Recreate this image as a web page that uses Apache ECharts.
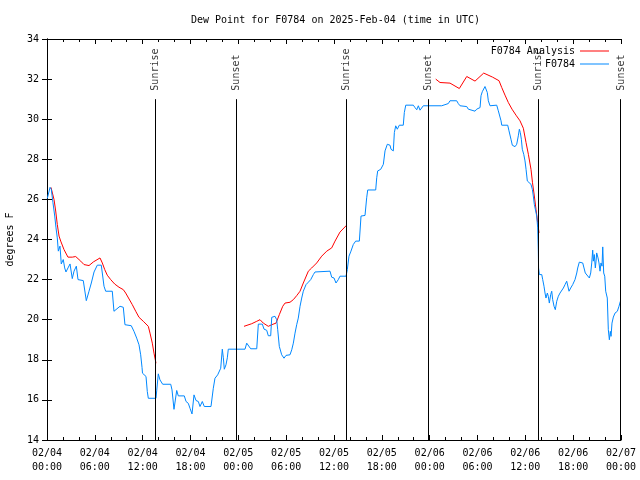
<!DOCTYPE html>
<html><head><meta charset="utf-8">
<script src="https://cdn.jsdelivr.net/npm/echarts@6/dist/echarts.min.js"></script>
<style>html,body{margin:0;padding:0;background:#fff}#c{width:640px;height:480px}</style>
</head><body><div id="c"></div>
<script>
// x values are hours since 02/04 00:00 UTC
const tickLabels = ["02/04\n00:00","02/04\n06:00","02/04\n12:00","02/04\n18:00","02/05\n00:00","02/05\n06:00","02/05\n12:00","02/05\n18:00","02/06\n00:00","02/06\n06:00","02/06\n12:00","02/06\n18:00","02/07\n00:00"];
const yTicks = [14,16,18,20,22,24,26,28,30,32,34];

const obsHours = [0.04,0.38,0.54,0.75,0.97,1.13,1.29,1.42,1.63,1.79,2.04,2.22,2.38,2.63,2.89,3.17,3.39,3.68,3.89,4.55,4.93,5.27,5.56,5.90,6.31,6.81,7.15,7.36,8.19,8.40,9.16,9.57,9.78,10.57,10.91,11.25,11.54,11.75,11.92,11.98,12.42,12.58,12.71,13.67,13.76,13.96,14.17,14.51,15.52,15.68,15.93,16.27,16.47,17.22,17.44,17.72,17.94,18.19,18.44,18.69,18.98,19.19,19.48,19.73,20.57,20.86,21.07,21.41,21.61,21.79,21.99,22.12,22.24,22.45,22.62,22.74,24.84,25.05,25.25,25.55,26.31,26.51,27.01,27.22,27.56,27.76,28.06,28.19,28.60,28.81,28.94,29.14,29.44,29.73,29.98,30.48,30.70,30.90,31.11,31.32,31.52,31.74,31.95,32.15,32.49,32.78,33.08,33.41,33.62,35.50,35.71,36.00,36.25,36.54,36.75,37.51,37.67,37.88,38.13,38.42,38.72,39.18,39.39,39.89,40.10,40.23,41.23,41.36,41.48,41.86,42.19,42.40,42.69,43.03,43.15,43.44,43.57,43.74,43.94,44.19,44.69,44.82,45.00,45.95,46.16,46.38,46.58,46.79,47.00,47.20,49.51,49.71,50.34,50.55,51.39,51.59,51.81,52.65,52.85,53.06,53.69,53.90,54.32,54.44,54.60,54.78,54.94,55.16,55.23,55.36,55.57,56.41,56.61,56.82,56.95,57.04,57.79,57.95,58.08,58.20,58.37,58.71,58.92,59.12,59.25,59.37,59.50,59.62,59.80,59.96,60.09,60.25,60.46,60.71,60.88,61.00,61.13,61.30,61.43,61.55,61.63,61.66,61.76,62.06,62.18,62.34,62.47,62.59,62.76,62.88,63.01,63.18,63.31,63.43,63.60,63.76,63.94,64.14,64.35,64.56,64.77,64.98,65.19,65.32,65.48,65.69,65.94,66.23,66.45,66.57,66.77,67.20,67.36,67.52,67.77,68.03,68.20,68.33,68.45,68.53,68.65,68.78,68.87,68.95,69.12,69.24,69.37,69.49,69.62,69.71,69.83,69.96,70.08,70.28,70.41,70.54,70.66,70.75,70.87,71.04,71.25,71.54,71.75,71.92];
const obsDew = [26.05,26.6,26.5,25.83,25.17,24.58,24.08,23.42,23.67,22.78,23.0,22.58,22.38,22.58,22.78,22.05,22.42,22.67,22.0,21.95,20.95,21.42,21.83,22.38,22.72,22.72,21.67,21.42,21.42,20.42,20.67,20.62,19.75,19.7,19.42,19.08,18.75,18.25,17.62,17.33,17.17,16.42,16.08,16.08,16.45,17.3,17.0,16.78,16.78,16.5,15.53,16.47,16.2,16.2,15.92,15.83,15.58,15.3,16.25,15.97,15.92,15.67,15.92,15.67,15.67,16.58,17.08,17.25,17.33,17.58,18.53,18.1,17.53,17.75,18.1,18.53,18.53,18.83,18.83,18.55,18.55,19.78,19.78,19.53,19.47,19.2,19.2,20.12,20.17,20.0,19.5,18.67,18.25,18.08,18.22,18.25,18.5,18.83,19.33,19.75,20.08,20.67,21.08,21.42,21.75,21.87,22.0,22.25,22.38,22.42,22.12,22.08,21.83,22.0,22.17,22.17,22.5,23.17,23.42,23.75,23.92,23.92,25.17,25.2,26.08,26.47,26.47,27.08,27.42,27.5,27.75,28.42,28.75,28.7,28.5,28.42,29.33,29.67,29.5,29.7,29.7,30.33,30.7,30.7,30.58,30.47,30.67,30.45,30.45,30.67,30.67,30.7,30.78,30.92,30.92,30.78,30.67,30.63,30.5,30.42,30.4,30.5,30.58,31.17,31.37,31.33,31.63,31.7,31.33,30.92,30.67,30.7,30.42,30.33,29.92,29.7,29.7,29.42,29.33,29.0,28.7,28.63,28.75,29.17,29.5,29.33,29.0,28.5,28.25,27.92,27.5,26.92,26.83,26.75,26.5,26.17,25.75,25.67,25.17,24.58,23.42,22.58,22.25,22.25,22.0,21.67,21.33,21.08,21.33,21.17,20.83,21.25,21.42,21.0,20.67,20.5,20.92,21.17,21.33,21.37,21.58,21.75,21.92,22.0,21.42,21.58,21.75,22.0,22.33,22.58,22.87,22.83,22.58,22.33,22.25,22.08,22.33,22.83,23.47,22.92,23.25,22.58,22.92,23.33,23.08,22.83,22.42,22.83,22.67,23.63,22.33,22.17,21.42,21.08,19.5,19.0,19.42,19.17,19.83,20.13,20.33,20.42,20.67,20.92];

const anaHours1 = [0.5,0.88,1.09,1.29,1.51,1.72,2.13,2.63,3.17,3.60,4.23,4.64,5.27,5.81,6.65,6.94,7.24,7.56,7.99,8.49,9.03,9.57,9.87,10.70,11.13,11.54,12.08,12.71,12.92,13.21,13.42,13.67];
const anaDew1 = [26.6,26.0,25.42,24.75,24.17,23.92,23.5,23.12,23.12,23.15,22.92,22.75,22.7,22.88,23.08,22.83,22.5,22.22,22.0,21.78,21.62,21.5,21.33,20.75,20.42,20.12,19.92,19.67,19.33,18.83,18.33,17.83];
const anaHours2 = [24.71,25.68,26.31,26.72,27.13,27.76,28.19,28.73,29.14,29.57,29.86,30.48,30.90,31.32,31.74,32.15,32.78,33.20,33.83,34.46,35.09,35.71,36.13,36.75,37.60];
const anaDew2 = [19.67,19.8,19.92,20.0,19.83,19.67,19.75,19.83,20.25,20.67,20.83,20.87,21.0,21.2,21.42,21.83,22.42,22.58,22.83,23.17,23.42,23.58,23.92,24.37,24.72];
const anaHours3 = [48.76,49.30,50.55,51.72,52.65,53.69,54.78,55.88,56.70,57.04,57.45,57.87,58.33,58.83,59.33,59.75,60.09,60.38,60.71,60.90,61.13,61.34,61.55,61.72];
const anaDew3 = [32.0,31.83,31.8,31.53,32.13,31.9,32.3,32.1,31.92,31.58,31.2,30.83,30.5,30.2,29.92,29.55,28.83,28.25,27.5,26.83,26.17,25.5,24.83,24.33];

const sunHours = [13.59,23.71,37.55,47.83,61.63,71.94];
const sunNames = ["Sunrise","Sunset","Sunrise","Sunset","Sunrise","Sunset"];
const sunLineTop = 31;

const FONT = 'DejaVu Sans Mono';
const pairs = (xs, ys) => xs.map((x, i) => [x, ys[i]]);

const chart = echarts.init(document.getElementById('c'), null, {renderer: 'canvas'});

const xBase = {
  type: 'value', min: 0, max: 72, interval: 6,
  axisLine: {show: true, lineStyle: {color: '#000', width: 1}},
  axisTick: {show: true, inside: true, length: 5, lineStyle: {color: '#000'}},
  minorTick: {show: true, splitNumber: 3, length: 3, lineStyle: {color: '#000'}},
  splitLine: {show: false}, minorSplitLine: {show: false}
};
const yBase = {
  type: 'value', min: yTicks[0], max: yTicks[yTicks.length - 1], interval: yTicks[1] - yTicks[0],
  axisLine: {show: true, lineStyle: {color: '#000', width: 1}},
  axisTick: {show: true, inside: true, length: 5, lineStyle: {color: '#000'}},
  splitLine: {show: false}
};

const anaStyle = {
  type: 'line', name: 'F0784 Analysis', symbol: 'none', showSymbol: false,
  color: '#ff0000', lineStyle: {color: '#ff0000', width: 1}, z: 2
};

chart.setOption({
  animation: false,
  backgroundColor: '#fff',
  textStyle: {fontFamily: FONT},
  title: {
    text: 'Dew Point for F0784 on 2025-Feb-04 (time in UTC)',
    left: 186, top: 10,
    textStyle: {fontFamily: FONT, fontSize: 10, fontWeight: 'normal', color: '#000'}
  },
  legend: {
    orient: 'vertical', right: 31, top: 46, padding: 0,
    align: 'right', itemWidth: 29, itemHeight: 1, itemGap: 3, icon: 'rect',
    data: ['F0784 Analysis', 'F0784'],
    textStyle: {fontFamily: FONT, fontSize: 10, color: '#000'}
  },
  grid: {left: 47, right: 19, top: 39, bottom: 40, containLabel: false, outerBoundsMode: 'none'},
  xAxis: [
    Object.assign({}, xBase, {
      position: 'bottom',
      axisLabel: {
        show: true, margin: 6, fontFamily: FONT, fontSize: 10, color: '#000', lineHeight: 14,
        formatter: v => tickLabels[Math.round(v / 6)] || ''
      }
    }),
    Object.assign({}, xBase, {position: 'top', axisLabel: {show: false}})
  ],
  yAxis: [
    Object.assign({}, yBase, {
      position: 'left',
      name: 'degrees F', nameLocation: 'middle', nameRotate: 90, nameGap: 32,
      nameTextStyle: {fontFamily: FONT, fontSize: 10, color: '#000'},
      axisLabel: {show: true, margin: 8, fontFamily: FONT, fontSize: 10, color: '#000'}
    }),
    Object.assign({}, yBase, {position: 'right', axisLabel: {show: false}})
  ],
  series: [
    Object.assign({}, anaStyle, {data: pairs(anaHours1, anaDew1)}),
    Object.assign({}, anaStyle, {data: pairs(anaHours2, anaDew2)}),
    Object.assign({}, anaStyle, {data: pairs(anaHours3, anaDew3)}),
    {
      type: 'line', name: 'F0784', symbol: 'none', showSymbol: false,
      color: '#0088ff', lineStyle: {color: '#0088ff', width: 1}, z: 3,
      data: pairs(obsHours, obsDew)
    },
    {
      type: 'scatter', name: 'sun', symbolSize: 1, z: 4, silent: true,
      itemStyle: {color: 'rgba(0,0,0,0)'},
      data: sunHours.map((t, i) => ({value: [t, sunLineTop], name: sunNames[i]})),
      label: {
        show: true, formatter: '{b}', position: [1, -8], rotate: 90,
        align: 'left', verticalAlign: 'middle',
        fontFamily: FONT, fontSize: 10, color: '#000'
      },
      markLine: {
        silent: true, symbol: 'none', animation: false,
        lineStyle: {color: '#000', width: 1, type: 'solid'},
        label: {show: false},
        data: sunHours.map(t => [{coord: [t, yTicks[0]]}, {coord: [t, sunLineTop]}])
      }
    }
  ]
});
</script>
</body></html>
